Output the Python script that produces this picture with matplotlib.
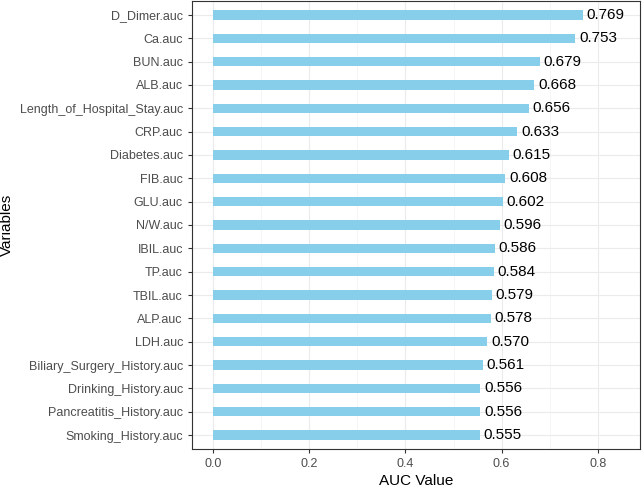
import matplotlib.pyplot as plt
from matplotlib.ticker import MultipleLocator

plt.rcParams['font.family'] = ['Liberation Sans', 'DejaVu Sans']

variables = ["D_Dimer.auc", "Ca.auc", "BUN.auc", "ALB.auc", "Length_of_Hospital_Stay.auc",
             "CRP.auc", "Diabetes.auc", "FIB.auc", "GLU.auc", "N/W.auc", "IBIL.auc",
             "TP.auc", "TBIL.auc", "ALP.auc", "LDH.auc", "Biliary_Surgery_History.auc",
             "Drinking_History.auc", "Pancreatitis_History.auc", "Smoking_History.auc"]
auc = [0.769, 0.753, 0.679, 0.668, 0.656, 0.633, 0.615, 0.608, 0.602, 0.596, 0.586,
       0.584, 0.579, 0.578, 0.570, 0.561, 0.556, 0.556, 0.555]

fig = plt.figure(figsize=(6.42, 4.87), dpi=100)
ax = fig.add_axes([0.299, 0.078, 0.698, 0.92])

pos = list(range(len(variables)))[::-1]
ax.barh(pos, auc, height=0.4, color='#87CEEB', zorder=3)
for p, v in zip(pos, auc):
    ax.text(v + 0.008, p, f"{v:.3f}", va='center', ha='left', fontsize=11, color='black', zorder=4)

ax.set_xlim(-0.044, 0.888)
ax.set_ylim(-0.6, len(variables) - 0.4)
ax.set_yticks(pos)
ax.set_yticklabels(variables)
ax.xaxis.set_major_locator(MultipleLocator(0.2))
ax.xaxis.set_minor_locator(MultipleLocator(0.1))
ax.set_xticks([0.0, 0.2, 0.4, 0.6, 0.8])
ax.set_xticklabels(["0.0", "0.2", "0.4", "0.6", "0.8"])

ax.grid(which='major', color='#EBEBEB', linewidth=0.8, zorder=0)
ax.grid(which='minor', axis='x', color='#F2F2F2', linewidth=0.5, zorder=0)
ax.tick_params(axis='both', which='major', labelsize=9, labelcolor='#4D4D4D',
               color='#333333', length=3, width=0.8)
ax.tick_params(axis='x', which='minor', length=0)
for s in ax.spines.values():
    s.set_color('#333333')
    s.set_linewidth(0.8)

ax.set_xlabel("AUC Value", fontsize=11, labelpad=3)
ax.set_ylabel("Variables", fontsize=11, labelpad=4)

fig.savefig("out.png", dpi=100)
